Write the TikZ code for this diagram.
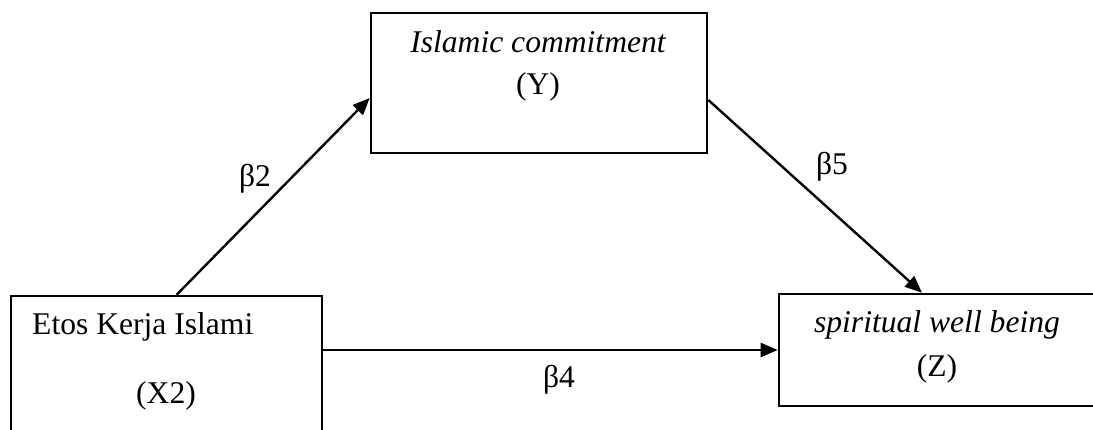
\documentclass[tikz,border=0pt]{standalone}
\usepackage{fontspec}
\setmainfont{Liberation Serif}
\usetikzlibrary{arrows.meta}
\begin{document}
\begin{tikzpicture}[x=1pt,y=-1pt,
  box/.style={draw,line width=2.6pt,rectangle,inner sep=0pt},
  lbl/.style={inner sep=0pt,anchor=base,font=\fontsize{31.6}{38}\selectfont},
  arr/.style={line width=2.4pt,-{Triangle[length=17pt,width=14pt]}}]
\useasboundingbox (0,0) rectangle (1093,430);
\clip (0,0) rectangle (1093,430);
\fill[white] (0,0) rectangle (1093,430);
% boxes
\node[box,minimum width=311pt,minimum height=174pt] (lbox) at (166.5,383) {};
\node[box,minimum width=336pt,minimum height=140pt] (tbox) at (539,83) {};
\node[box,minimum width=316pt,minimum height=112pt] (rbox) at (937,350) {};
% texts
\node[lbl,anchor=base west] (t1) at (32,335) {Etos Kerja Islami};
\node[lbl] (t2) at (166,403) {(X2)};
\node[lbl] (t3) at (538,53) {\itshape Islamic commitment};
\node[lbl] (t4) at (538,95) {(Y)};
\node[lbl] (t5) at (937,333) {\itshape spiritual well being};
\node[lbl] (t6) at (937,377) {(Z)};
% arrows
\draw[arr] ([xshift=167pt]lbox.north west) -- ([yshift=-15pt]tbox.west);
\draw[arr] ([yshift=-17pt]tbox.east) -- ([xshift=-15pt]rbox.north);
\draw[arr] (lbox.east |- rbox.west) -- (rbox.west);
% labels
\node[lbl] (b2) at (255,187) {β2};
\node[lbl] (b5) at (832,175) {β5};
\node[lbl] (b4) at (559,388) {β4};
\end{tikzpicture}
\end{document}
